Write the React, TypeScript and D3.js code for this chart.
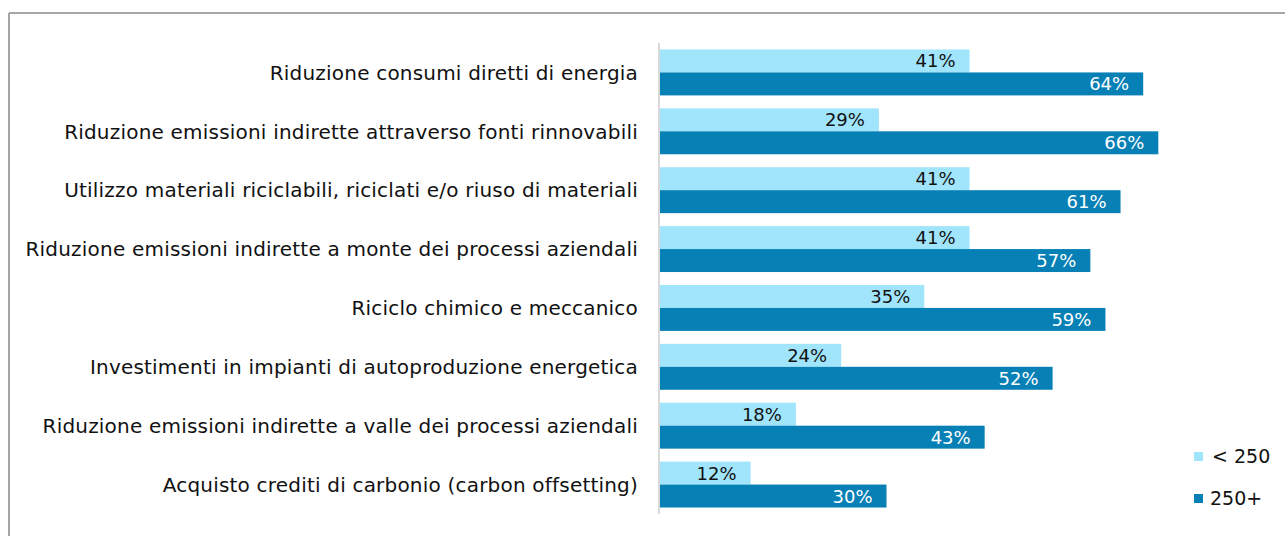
import React from "react";
import * as d3 from "d3";

const categories = [
  "Riduzione consumi diretti di energia",
  "Riduzione emissioni indirette attraverso fonti rinnovabili",
  "Utilizzo materiali riciclabili, riciclati e/o riuso di materiali",
  "Riduzione emissioni indirette a monte dei processi aziendali",
  "Riciclo chimico e meccanico",
  "Investimenti in impianti di autoproduzione energetica",
  "Riduzione emissioni indirette a valle dei processi aziendali",
  "Acquisto crediti di carbonio (carbon offsetting)",
];

const small = [41, 29, 41, 41, 35, 24, 18, 12];
const large = [64, 66, 61, 57, 59, 52, 43, 30];

const seriesNames = ["< 250", "250+"];
const colors = ["#a1e5fc", "#0780b6"];
const labelColors = ["#111111", "#ffffff"];

const W = 1285;
const H = 536;
const FONT = "'DejaVu Sans', sans-serif";

export default function App() {
  const x = d3.scaleLinear().domain([0, 100]).range([660, 1415]);
  const y = d3
    .scaleBand<string>()
    .domain(categories)
    .range([43, 514])
    .paddingInner(0.22)
    .paddingOuter(0.11);
  const inner = d3
    .scaleBand<number>()
    .domain([0, 1])
    .range([0, y.bandwidth()]);

  const series = [small, large];

  return (
    <svg
      width={W}
      height={H}
      style={{ position: "absolute", left: 0, top: 0, background: "#fff" }}
    >
      {/* outer frame */}
      <line x1={9} y1={13} x2={W} y2={13} stroke="#a6a6a6" strokeWidth={2} />
      <line x1={9} y1={13} x2={9} y2={H} stroke="#a6a6a6" strokeWidth={2} />

      {/* category axis */}
      <line
        x1={x(0) - 1}
        x2={x(0) - 1}
        y1={43}
        y2={514}
        stroke="#d9d9d9"
        strokeWidth={2}
      />

      {categories.map((c, i) => (
        <g key={c} transform={`translate(0,${y(c)})`}>
          <text
            x={638}
            y={y.bandwidth() / 2}
            dy="0.36em"
            textAnchor="end"
            fontFamily={FONT}
            fontSize={20}
            letterSpacing={0.2}
            fill="#111"
          >
            {c}
          </text>
          {series.map((s, si) => (
            <g key={si}>
              <rect
                x={x(0)}
                y={inner(si)}
                width={x(s[i]) - x(0)}
                height={inner.bandwidth()}
                fill={colors[si]}
              />
              <text
                x={x(s[i]) - 14}
                y={(inner(si) as number) + inner.bandwidth() / 2}
                dy="0.36em"
                textAnchor="end"
                fontFamily={FONT}
                fontSize={18}
                fill={labelColors[si]}
              >
                {s[i]}%
              </text>
            </g>
          ))}
        </g>
      ))}

      {/* legend */}
      {seriesNames.map((n, i) => (
        <g key={n} transform={`translate(1194,${452 + i * 42})`}>
          <rect x={0} y={0} width={9} height={9} fill={colors[i]} />
          <text
            x={i === 0 ? 18 : 16}
            y={4.5}
            dy="0.36em"
            fontFamily={FONT}
            fontSize={19}
            fill="#111"
          >
            {n}
          </text>
        </g>
      ))}
    </svg>
  );
}
